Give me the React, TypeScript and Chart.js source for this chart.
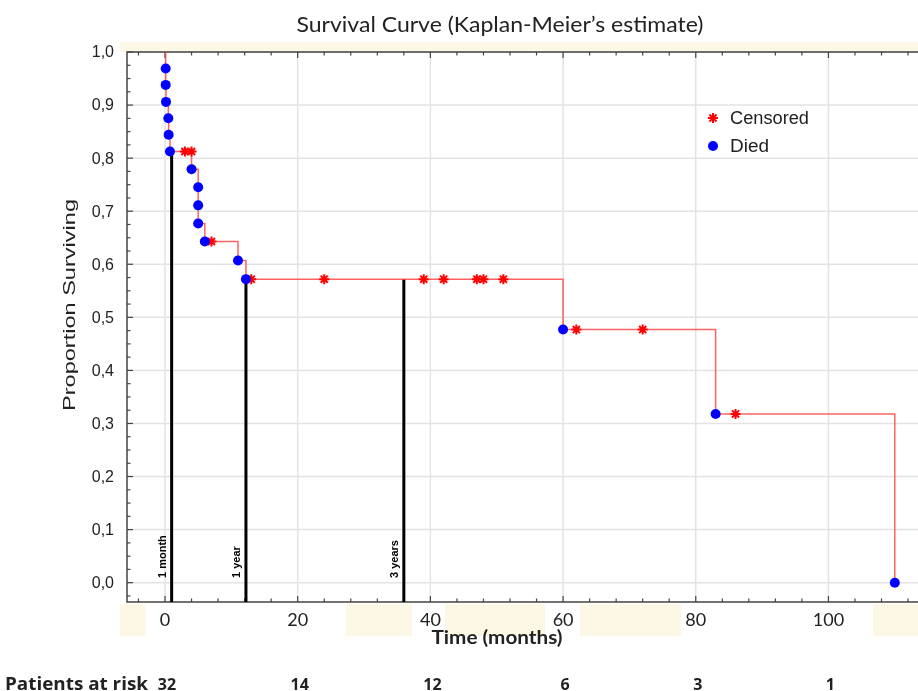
import React, { useEffect, useRef } from "react";
import { Chart, registerables } from "chart.js";

Chart.register(...registerables);

// ---- data ----
const deathTimes = [0.1, 0.1, 0.15, 0.5, 0.55, 0.75, 4, 5, 5, 5, 6, 11, 12.2, 60, 83, 110];
const deathSurv = [0.969, 0.938, 0.906, 0.875, 0.844, 0.8125, 0.779, 0.745, 0.711, 0.677, 0.643, 0.607, 0.572, 0.477, 0.318, 0];
const censTimes = [3, 4, 7, 13, 24, 39, 42, 47, 48, 51, 62, 72, 86];
const censSurv = [0.8125, 0.8125, 0.643, 0.572, 0.572, 0.572, 0.572, 0.572, 0.572, 0.572, 0.477, 0.477, 0.318];
const markerTimes = [1, 12.2, 36];
const markerSurv = [0.8125, 0.572, 0.572];
const markerLabels = ["1 month", "1 year", "3 years"];
const xTicks = [0, 20, 40, 60, 80, 100];
const yTicks = [0, 0.1, 0.2, 0.3, 0.4, 0.5, 0.6, 0.7, 0.8, 0.9, 1.0];
const riskCounts = [32, 14, 12, 6, 3, 1];
const legendLabels = ["Censored", "Died"];
const titleText = "Survival Curve (Kaplan-Meier\u2019s estimate)";
const xTitle = "Time (months)";
const yTitle = "Proportion Surviving";
const riskTitle = "Patients at risk";

const X_MIN = -5.73;
const X_MAX = 113.5;
const Y_MIN = -0.0364;
const Y_MAX = 1.0;

const CAL = "Lato, 'Open Sans', sans-serif";
const OPEN = "'Open Sans', Lato, sans-serif";
const ARIAL = "'Liberation Sans', Arial, sans-serif";

function drawStar(ctx: CanvasRenderingContext2D, x: number, y: number, r: number) {
  ctx.beginPath();
  for (let i = 0; i < 4; i++) {
    const a = (i * Math.PI) / 4;
    ctx.moveTo(x - Math.cos(a) * r, y - Math.sin(a) * r);
    ctx.lineTo(x + Math.cos(a) * r, y + Math.sin(a) * r);
  }
  ctx.stroke();
}

// draw text horizontally scaled so it spans the given width
function fitText(ctx: CanvasRenderingContext2D, text: string, x: number, y: number, w: number, align: "left" | "center") {
  const mw = ctx.measureText(text).width;
  const s = w / mw;
  ctx.save();
  ctx.translate(x, y);
  ctx.scale(s, 1);
  ctx.textAlign = align;
  ctx.fillText(text, 0, 0);
  ctx.restore();
}

const decoPlugin = {
  id: "deco",
  beforeDraw(chart: any) {
    const ctx: CanvasRenderingContext2D = chart.ctx;
    ctx.save();
    ctx.fillStyle = "#ffffff";
    ctx.fillRect(0, 0, chart.width, chart.height);
    ctx.fillStyle = "#fdf8e6";
    ctx.fillRect(120, 42, chart.width - 120, 10);
    const beige = [[120, 146], [346, 412], [445, 545], [580, 681], [873, 918]];
    for (const [a, b] of beige) ctx.fillRect(a, 604, b - a, 32);
    ctx.restore();
  },
  beforeDatasetsDraw(chart: any) {
    const ctx: CanvasRenderingContext2D = chart.ctx;
    const xs = chart.scales.x;
    const ys = chart.scales.y;
    const a = chart.chartArea;
    ctx.save();
    // grid
    ctx.strokeStyle = "#e3e3e3";
    ctx.lineWidth = 1.5;
    for (const t of xTicks) {
      const px = xs.getPixelForValue(t);
      ctx.beginPath();
      ctx.moveTo(px, a.top);
      ctx.lineTo(px, a.bottom);
      ctx.stroke();
    }
    for (const v of yTicks) {
      const py = ys.getPixelForValue(v);
      ctx.beginPath();
      ctx.moveTo(a.left, py);
      ctx.lineTo(a.right, py);
      ctx.stroke();
    }
    // frame
    ctx.strokeStyle = "#444";
    ctx.lineWidth = 1.5;
    ctx.beginPath();
    ctx.moveTo(a.right, a.top);
    ctx.lineTo(a.left, a.top);
    ctx.lineTo(a.left, a.bottom);
    ctx.lineTo(a.right, a.bottom);
    ctx.stroke();
    // ticks
    ctx.lineWidth = 1.2;
    for (let t = -4; t <= 112; t += 4) {
      const px = xs.getPixelForValue(t);
      const len = t % 20 === 0 ? 6 : 3.5;
      ctx.beginPath();
      ctx.moveTo(px, a.bottom);
      ctx.lineTo(px, a.bottom - len);
      ctx.moveTo(px, a.top);
      ctx.lineTo(px, a.top + len);
      ctx.stroke();
    }
    for (let i = -1; i <= 40; i++) {
      const v = i * 0.025;
      const py = ys.getPixelForValue(v);
      const len = i % 4 === 0 ? 6 : 3.5;
      ctx.beginPath();
      ctx.moveTo(a.left, py);
      ctx.lineTo(a.left + len, py);
      ctx.stroke();
    }
    ctx.restore();
  },
  afterDraw(chart: any) {
    const ctx: CanvasRenderingContext2D = chart.ctx;
    const xs = chart.scales.x;
    const ys = chart.scales.y;
    ctx.save();
    ctx.fillStyle = "#222";
    ctx.textBaseline = "middle";
    // y tick labels
    ctx.font = `16px ${ARIAL}`;
    ctx.textAlign = "right";
    for (const v of yTicks) {
      ctx.fillText(v.toFixed(1).replace(".", ","), 114, ys.getPixelForValue(v) + 1);
    }
    // x tick labels
    ctx.font = `18px ${CAL}`;
    ctx.textAlign = "center";
    for (const t of xTicks) {
      ctx.fillText(String(t), xs.getPixelForValue(t), 620);
    }
    // x title
    ctx.font = `bold 19px ${CAL}`;
    fitText(ctx, xTitle, 497, 638, 131, "center");
    // title
    ctx.font = `21px ${CAL}`;
    fitText(ctx, titleText, 500, 25, 407, "center");
    // risk
    ctx.font = `bold 17px ${OPEN}`;
    fitText(ctx, riskTitle, 5, 685, 143, "left");
    ctx.font = `bold 16px ${OPEN}`;
    ctx.textAlign = "center";
    xTicks.forEach((t, i) => ctx.fillText(String(riskCounts[i]), xs.getPixelForValue(t) + 2, 685));
    // y title
    ctx.save();
    ctx.translate(70, 305);
    ctx.rotate(-Math.PI / 2);
    ctx.font = `17px ${ARIAL}`;
    fitText(ctx, yTitle, 0, 0, 212, "center");
    ctx.restore();
    // marker labels
    ctx.fillStyle = "#000";
    ctx.font = `bold 11px ${ARIAL}`;
    markerTimes.forEach((t, i) => {
      ctx.save();
      ctx.translate(xs.getPixelForValue(t) - 9, 578);
      ctx.rotate(-Math.PI / 2);
      ctx.textAlign = "left";
      ctx.fillText(markerLabels[i], 0, 0);
      ctx.restore();
    });
    // legend
    ctx.strokeStyle = "#ff0000";
    ctx.lineWidth = 2;
    drawStar(ctx, 713, 118, 5);
    ctx.fillStyle = "#0000ff";
    ctx.beginPath();
    ctx.arc(713, 146, 5, 0, Math.PI * 2);
    ctx.fill();
    ctx.fillStyle = "#222";
    ctx.font = `18px ${ARIAL}`;
    fitText(ctx, legendLabels[0], 730, 119, 79, "left");
    fitText(ctx, legendLabels[1], 730, 147, 39, "left");
    ctx.restore();
  },
};

export default function App() {
  const ref = useRef<HTMLCanvasElement>(null);
  useEffect(() => {
    if (!ref.current) return;
    const died = deathTimes.map((t, i) => ({ x: t, y: deathSurv[i] }));
    const cens = censTimes.map((t, i) => ({ x: t, y: censSurv[i] }));
    const step = [{ x: 0, y: 1 }, ...died];
    const markers = markerTimes.map((t, i) => ({
      data: [{ x: t, y: markerSurv[i] }, { x: t, y: Y_MIN }],
      showLine: true,
      borderColor: "#000",
      borderWidth: 3,
      pointRadius: 0,
      borderCapStyle: "butt",
    }));
    const chart = new Chart(ref.current, {
      type: "scatter",
      data: {
        datasets: [
          {
            data: died,
            pointStyle: "circle",
            pointRadius: 5,
            backgroundColor: "#0000ff",
            borderColor: "#0000ff",
            borderWidth: 0,
            showLine: false,
          },
          {
            data: cens,
            pointStyle: "star",
            pointRadius: 5,
            borderColor: "#ff0000",
            backgroundColor: "#ff0000",
            borderWidth: 2,
            showLine: false,
          },
          {
            data: step,
            showLine: true,
            stepped: "before",
            borderColor: "rgba(255,60,60,0.8)",
            borderWidth: 1.5,
            pointRadius: 0,
          },
          ...markers,
        ] as any,
      },
      options: {
        responsive: false,
        animation: false,
        layout: { autoPadding: false, padding: { left: 127, top: 52, right: 0, bottom: 89 } },
        plugins: { legend: { display: false }, tooltip: { enabled: false }, title: { display: false } },
        scales: {
          x: { type: "linear", min: X_MIN, max: X_MAX, display: false },
          y: { type: "linear", min: Y_MIN, max: Y_MAX, display: false },
        },
      } as any,
      plugins: [decoPlugin],
    });
    return () => chart.destroy();
  }, []);
  return (
    <div style={{ position: "fixed", left: 0, top: 0, width: 918, height: 691 }}>
      <canvas ref={ref} width={918} height={691} style={{ display: "block", width: 918, height: 691 }} />
    </div>
  );
}
